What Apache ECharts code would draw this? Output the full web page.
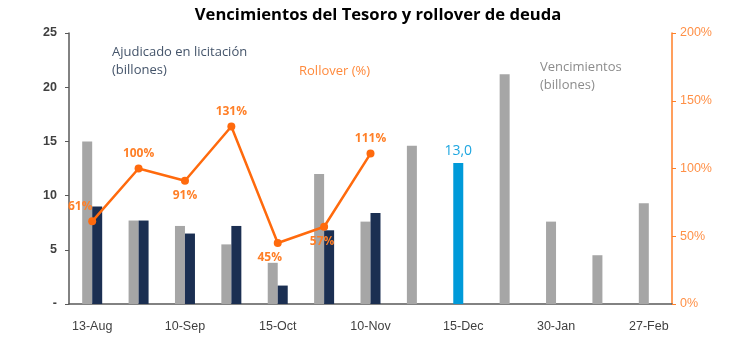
<!DOCTYPE html>
<html>
<head>
<meta charset="utf-8">
<script src="https://cdn.jsdelivr.net/npm/echarts@6/dist/echarts.min.js"></script>
<style>html,body{margin:0;padding:0;background:#fff}#c{width:730px;height:353px}</style>
</head>
<body>
<div id="c"></div>
<script>
var categories = ['13-Aug','27-Aug','10-Sep','24-Sep','15-Oct','29-Oct','10-Nov','28-Nov','15-Dec','15-Jan','30-Jan','13-Feb','27-Feb'];
var vencimientos = [15.0, 7.7, 7.2, 5.5, 3.8, 12.0, 7.6, 14.6, 13.0, 21.2, 7.6, 4.5, 9.3];
var adjudicado = [9.0, 7.7, 6.5, 7.2, 1.7, 6.8, 8.4, null, null, null, null, null, null];
var rollover = [61, 100, 91, 131, 45, 57, 111, null, null, null, null, null, null];
var leftTicks = [0, 5, 10, 15, 20, 25];
var rightTicks = [0, 50, 100, 150, 200];

var FONT = 'Open Sans';
var AXFONT = 'Liberation Sans';
var highlightIndex = 8;
var labelPos = ['top','top','bottom','top','bottom','bottom','top'];
var labelOff = [[-12,0],[0,0],[0,0],[0,0],[-8,0],[-2,0],[0,0]];

var vencData = vencimientos.map(function(v, i){
  if (i === highlightIndex) {
    return {value: v, itemStyle: {color: '#009AD9'},
      label: {show: true, position: 'top', color: '#1EA6E0', fontSize: 14, fontFamily: FONT, distance: 5,
        formatter: function(p){ return p.value.toFixed(1).replace('.', ','); }}};
  }
  return v;
});
var rollData = rollover.map(function(v, i){
  if (v === null) return null;
  return {value: v, label: {position: labelPos[i], offset: labelOff[i]}};
});

var chart = echarts.init(document.getElementById('c'));
chart.setOption({
  animation: false,
  textStyle: {fontFamily: FONT},
  title: {text: 'Vencimientos del Tesoro y rollover de deuda', left: 373, textAlign: 'center', top: 2,
    textStyle: {fontSize: 16.6, fontWeight: 'bold', color: '#000', fontFamily: FONT}},
  grid: {left: 69, right: 58, top: 33, bottom: 49},
  xAxis: {type: 'category', data: categories,
    axisLine: {lineStyle: {color: '#595959', width: 1.5}},
    axisTick: {show: false},
    axisLabel: {interval: 1, color: '#404040', fontSize: 12.5, margin: 16, fontFamily: AXFONT}},
  yAxis: [
    {type: 'value', min: 0, max: 25, interval: 5, splitLine: {show: false},
      axisLine: {show: true, lineStyle: {color: '#595959', width: 1.5}},
      axisTick: {show: true, length: 4, lineStyle: {color: '#595959'}},
      axisLabel: {color: '#404040', fontSize: 12.5, margin: 12, fontWeight: 'bold', fontFamily: AXFONT,
        formatter: function(v){ return v === 0 ? '-' : String(v); }}},
    {type: 'value', min: 0, max: 200, interval: 50, splitLine: {show: false},
      axisLine: {show: true, lineStyle: {color: '#FF7F27', width: 1.5}},
      axisTick: {show: true, length: 4, lineStyle: {color: '#FF7F27'}},
      axisLabel: {color: '#FF9047', fontSize: 12.5, margin: 8, fontFamily: AXFONT,
        formatter: '{value}%'}}
  ],
  graphic: [
    {type: 'text', left: 112, top: 43, style: {text: 'Ajudicado en licitación\n(billones)', fill: '#44546A', font: '13px "Open Sans"', lineHeight: 18}},
    {type: 'text', left: 299, top: 65, style: {text: 'Rollover (%)', fill: '#FF8A3D', font: '13px "Open Sans"'}},
    {type: 'text', left: 540, top: 58, style: {text: 'Vencimientos\n(billones)', fill: '#8C8C8C', font: '13px "Open Sans"', lineHeight: 18}}
  ],
  series: [
    {name: 'Vencimientos', type: 'bar', data: vencData, barWidth: 10, barGap: '0%',
      itemStyle: {color: '#A6A6A6'}},
    {name: 'Adjudicado', type: 'bar', data: adjudicado, barWidth: 10,
      itemStyle: {color: '#1B2F52'}},
    {name: 'Rollover', type: 'line', yAxisIndex: 1, data: rollData, z: 5,
      lineStyle: {color: '#FF6A0D', width: 2.5}, itemStyle: {color: '#FF6A0D'},
      symbol: 'circle', symbolSize: 8,
      label: {show: true, color: '#FF7F27', fontWeight: 'bold', fontSize: 12, fontFamily: FONT,
        formatter: '{c}%'}}
  ]
});
</script>
</body>
</html>
